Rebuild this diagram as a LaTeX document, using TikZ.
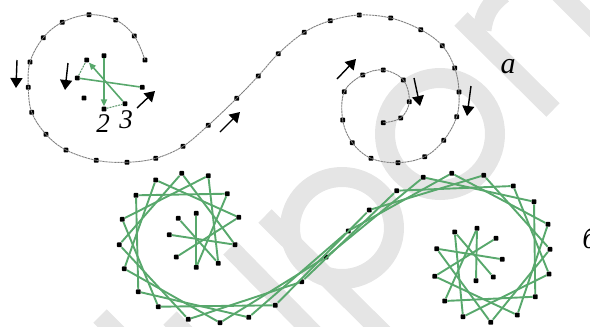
\documentclass[tikz,border=0pt]{standalone}
\usepackage{fontspec}
\setmainfont{Liberation Serif}
\usetikzlibrary{arrows.meta}
\definecolor{wm}{HTML}{E5E5E5}
\definecolor{strgreen}{RGB}{88,168,108}
\tikzset{
  dotmark/.style={rectangle,fill=black,inner sep=0pt,minimum size=4.8pt,rounded corners=0.8pt},
  band/.style={draw=wm,line width=19pt,line cap=butt},
  ringband/.style={draw=wm,line width=20pt},
  curveline/.style={draw=black!50,line width=0.9pt,dash pattern=on 2.4pt off 0.6pt},
  string/.style={draw=strgreen,line width=1.9pt},
  guide/.style={draw=strgreen,line width=1.6pt},
  guidedash/.style={draw=strgreen!70!gray,line width=1.1pt,dash pattern=on 2pt off 1pt},
  bigarrow/.style={draw=black,line width=1.4pt,-{Triangle[length=10pt,width=12pt]}},
  lbl/.style={inner sep=0pt,font=\itshape\fontsize{27}{27}\selectfont}
}
\begin{document}
\begin{tikzpicture}[x=1pt,y=-1pt]
\clip (0,0) rectangle (590,327);
% pale background bands
\draw[ringband] (440,134) ellipse [x radius=55pt,y radius=56pt];
\draw[ringband] (342,228) ellipse [x radius=52pt,y radius=51pt];
\draw[band] (265,216) -- (390,340);
\draw[band] (230,248) -- (320,340);
\draw[band] (100,316) -- (125,341);
\draw[band] (170,318) -- (195,343);
\draw[band] (461,19) -- (553,110);
\draw[band] (558,-8) -- (600,34);
\draw[draw=wm,line width=19pt] (482,30) .. controls (484,14) and (490,4) .. (503,-6);
% points of curve a
\foreach \x/\y [count=\i from 0] in {104/55.7,86.7/60,77.3/78,84/98,104/109,125/103.7,142.3/87.3,145/60,134.3/36,115.7/20,89/14.7,62.3/22.3,43.3/37.7,30/62,28.3/87.3,31.7/112.3,46/134.3,66/150,96.3/160.3,127/162.3,155.7/158.3,183/146.3,208.3/125.3,236.7/98.3,258.3/76,278.3/53.7,304.3/32.3,330.3/20.7,359.3/15,390.7/18,420.7/29.7,442.3/45.7,454.7/68,459/92,456.7/116.7,443.7/140.3,424.7/156.7,398/162.7,371/158.3,352.3/142.7,342.7/120,344.3/91.7,362.7/75,383.3/70,403.3/80,409.3/101.7,400.7/118,383.3/122.7}
  \node[dotmark] (a\i) at (\x,\y) {};
% points of curve b
\foreach \x/\y [count=\i from 0] in {196.3/213.3,178.3/218.3,169.3/234.7,176.3/257,196.3/267.3,218.3/263.3,235/244.7,238.7/217.3,227.3/193.7,208.3/175.7,181.7/173.3,155.7/180,136/195.3,122.3/219.3,119.3/244.7,124.3/268.7,138.3/291.7,158.3/306.7,188.3/319.3,220/322.7,248.7/317.3,275.3/305.3,301.7/281.7,326/257,348.3/231,369.3/210,396.7/190.7,423.3/177.3,451.7/173.3,483.7/175.3,513.3/186,534/201.7,548/224.3,550/249.3,549/274,535.3/296.7,517.3/315,490.7/322.3,463/316.7,444.7/301,434.7/276.3,436.7/248.7,454.7/232,477/228.3,496/238.3,502.3/259.3,493.3/277,476/280.7}
  \node[dotmark] (b\i) at (\x,\y) {};
% curve a
\draw[curveline] plot[smooth,tension=0.6] coordinates {(a7.center) (a8.center) (a9.center) (a10.center) (a11.center) (a12.center) (a13.center) (a14.center) (a15.center) (a16.center) (a17.center) (a18.center) (a19.center) (a20.center) (a21.center) (a22.center) (a23.center) (a24.center) (a25.center) (a26.center) (a27.center) (a28.center) (a29.center) (a30.center) (a31.center) (a32.center) (a33.center) (a34.center) (a35.center) (a36.center) (a37.center) (a38.center) (a39.center) (a40.center) (a41.center) (a42.center) (a43.center) (a44.center) (a45.center) (a46.center) (a47.center)};
% first strings of a
\draw[guide,-{Triangle[length=7pt,width=6pt]}] (a0) -- (a4);
\draw[guide,-{Triangle[length=7pt,width=6pt]}] (a5) -- (a1);
\draw[guide] (a2) -- (a6);
\draw[guidedash] (a2) -- (a1);
\draw[guidedash] (a4) -- (a5);
% strings of b
\foreach \i in {0,...,43} {
  \pgfmathtruncatemacro\j{\i+4}
  \draw[string] (b\i) -- (b\j);
}
% arrows
\coordinate (s1) at (17,60);   \coordinate (e1) at (16,88);
\coordinate (s2) at (68,63);   \coordinate (e2) at (65,90);
\coordinate (s3) at (137,108); \coordinate (e3) at (155,91);
\coordinate (s4) at (220,132); \coordinate (e4) at (240,112);
\coordinate (s5) at (337,79);  \coordinate (e5) at (356,59);
\coordinate (s6) at (414,78);  \coordinate (e6) at (420,106);
\coordinate (s7) at (471,86);  \coordinate (e7) at (467,116);
\foreach \i in {1,...,7} \draw[bigarrow] (s\i) -- (e\i);
% labels
\node[lbl] (n2) at (103,124) {2};
\node[lbl] (n3) at (126,120) {3};
\node[lbl,font=\itshape\fontsize{30}{30}\selectfont] (la) at (508,67) {а};
\node[lbl,font=\itshape\fontsize{30}{30}\selectfont] (lb) at (590,238) {б};
\end{tikzpicture}
\end{document}
